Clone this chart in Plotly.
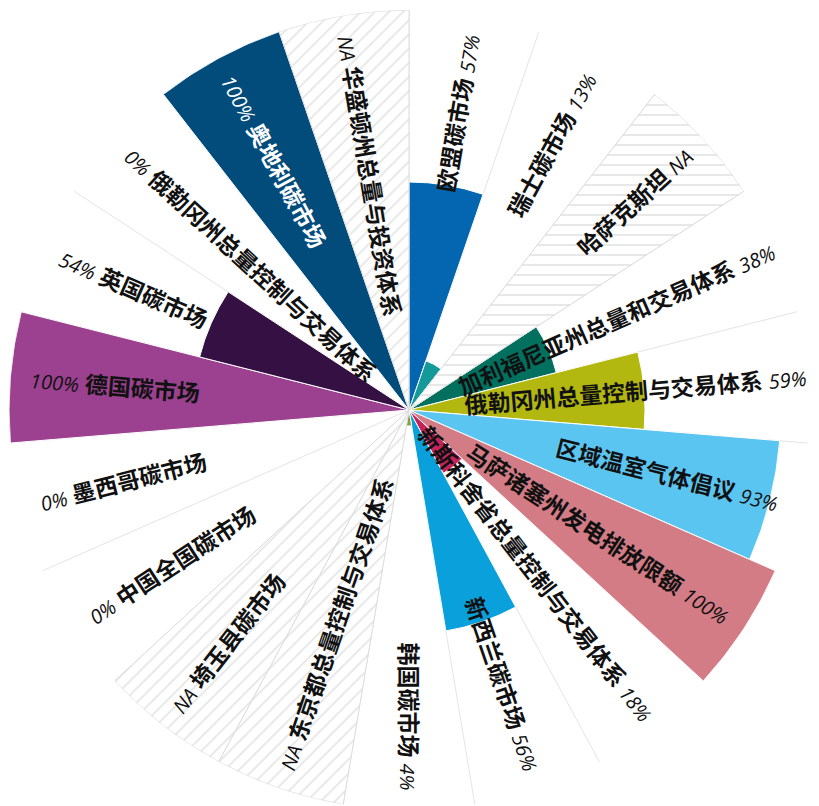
import math
import plotly.graph_objects as go

names = ["欧盟碳市场", "瑞士碳市场", "哈萨克斯坦", "加利福尼亚州总量和交易体系",
         "俄勒冈州总量控制与交易体系", "区域温室气体倡议", "马萨诸塞州发电排放限额",
         "新斯科舍省总量控制与交易体系", "新西兰碳市场", "韩国碳市场",
         "东京都总量控制与交易体系", "埼玉县碳市场", "中国全国碳市场", "墨西哥碳市场",
         "德国碳市场", "英国碳市场", "俄勒冈州总量控制与交易体系", "奥地利碳市场",
         "华盛顿州总量与投资体系"]
values = [57, 13, None, 38, 59, 93, 100, 18, 56, 4, None, None, 0, 0, 100, 54, 0, 100, None]
colors = ["#0466b0", "#13999a", "#ffffff", "#02705f", "#b2b810", "#5bc5f1", "#d47c86",
          "#c4245a", "#0aa0dc", "#8c9e3c", "#ffffff", "#ffffff", "#ffffff", "#ffffff",
          "#9c4190", "#341043", "#ffffff", "#024c7c", "#ffffff"]
text_colors = ["#111111"] * 17 + ["#ffffff", "#111111"]
hatch_shapes = {2: "-", 10: "/", 11: "/", 18: "/"}
# extra outward shift (px) of a few long labels, as in the reference
label_shift = {3: 18, 4: 18, 7: 10}

n = len(names)
step = 360.0 / n
thetas = [(i + 0.5) * step for i in range(n)]

# page has an 8px body margin; layout chosen so the polar centre lands where the reference has it
W, H = 819, 806
mt, mb, ml, mr = 2, 4, 0, 17
pw, ph = W - ml - mr, H - mt - mb
R = min(pw, ph) / 2.0
cx, cy = ml + pw / 2.0, mt + ph / 2.0

fig = go.Figure()

val_r = [v if v is not None else 0 for v in values]
fig.add_trace(go.Barpolar(
    r=val_r, theta=thetas, width=[step] * n,
    marker=dict(color=colors, line=dict(color="#ffffff", width=1)),
    hoverinfo="skip", showlegend=False,
))

na_idx = [i for i, v in enumerate(values) if v is None]
fig.add_trace(go.Barpolar(
    r=[100] * len(na_idx), theta=[thetas[i] for i in na_idx], width=[step] * len(na_idx),
    marker=dict(color="#ffffff", line=dict(color="#dcdcdc", width=1),
                pattern=dict(shape=[hatch_shapes.get(i, "/") for i in na_idx],
                             fgcolor="#cccccc", bgcolor="#ffffff",
                             size=10, solidity=0.18)),
    hoverinfo="skip", showlegend=False,
))

NAME_FS, PCT_FS = 23, 20


def pct_text(v):
    return "NA" if v is None else f"{v}%"


def pct_len(s):
    w = 0.0
    for ch in s:
        if ch.isdigit():
            w += 0.57
        elif ch == "%":
            w += 0.8
        elif ch == "N":
            w += 0.74
        else:
            w += 0.62
    return w * PCT_FS


annotations = []
R_end = 0.953 * R
for i, (nm, v, th) in enumerate(zip(names, values, thetas)):
    p = pct_text(v)
    pspan = f"<span style='font-size:{PCT_FS}px'><i>{p}</i></span>"
    if th <= 180.5:
        txt = f"<b>{nm}</b> {pspan}"
        ang = th - 90
    else:
        txt = f"{pspan} <b>{nm}</b>"
        ang = th - 270
    L = len(nm) * NAME_FS + 7 + pct_len(p)
    rc = R_end - L / 2.0 + label_shift.get(i, 0)
    a = math.radians(th)
    px = cx + rc * math.sin(a)
    py = cy - rc * math.cos(a)
    annotations.append(dict(
        x=(px - ml) / pw, y=(H - mb - py) / ph, xref="paper", yref="paper",
        text=txt, textangle=ang, showarrow=False, xanchor="center", yanchor="middle",
        font=dict(size=NAME_FS, color=text_colors[i],
                  family="Open Sans, Noto Sans CJK SC, sans-serif"),
    ))

fig.update_layout(
    width=W, height=H, margin=dict(l=ml, r=mr, t=mt, b=mb, autoexpand=False),
    paper_bgcolor="#ffffff",
    polar=dict(
        bgcolor="#ffffff", bargap=0, hole=0,
        domain=dict(x=[0, 1], y=[0, 1]),
        radialaxis=dict(visible=False, range=[0, 100], showgrid=False),
        angularaxis=dict(type="linear", thetaunit="degrees", rotation=90,
                         direction="clockwise", tick0=0, dtick=step,
                         showticklabels=False, ticks="", showline=False,
                         showgrid=True, gridcolor="#e4e4e4", gridwidth=1),
    ),
    annotations=annotations,
    showlegend=False,
)

fig.write_html("out.html")
